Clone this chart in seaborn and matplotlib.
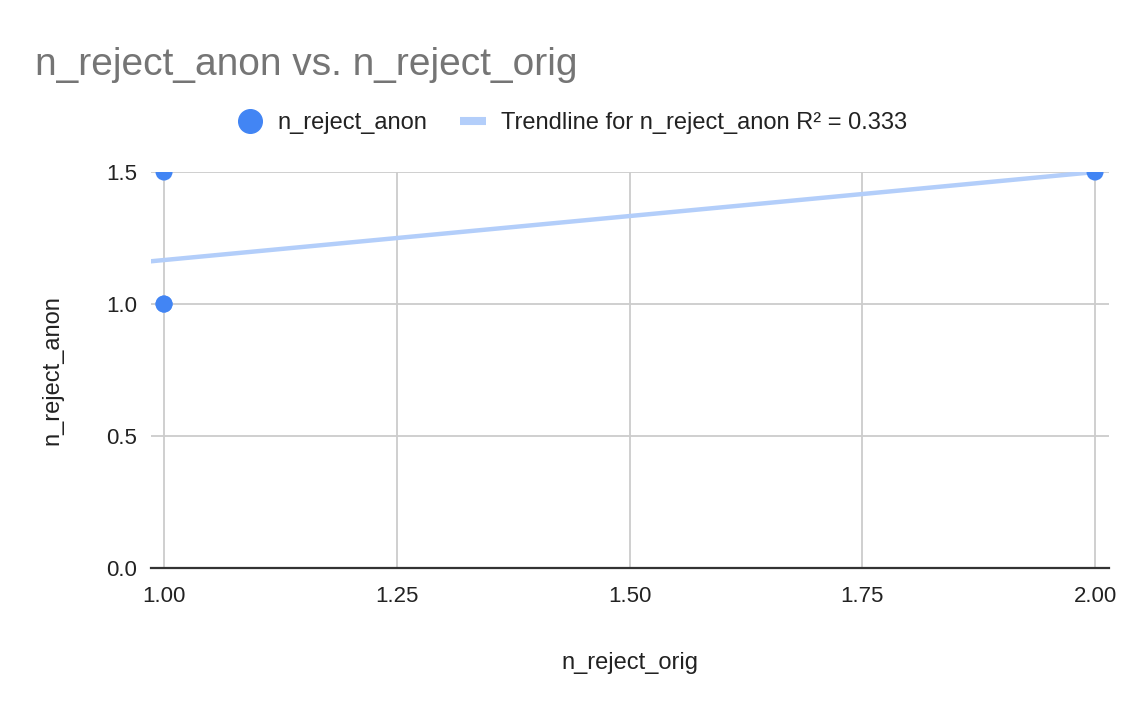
import numpy as np
import pandas as pd
import matplotlib
matplotlib.use("Agg")
import matplotlib.pyplot as plt
import seaborn as sns
from matplotlib.lines import Line2D

# Data
n_reject_orig = [1, 1, 1, 2]
n_reject_anon = [1.5, 1.0, 1.0, 1.5]
x_ticks = [1.00, 1.25, 1.50, 1.75, 2.00]
y_ticks = [0.0, 0.5, 1.0, 1.5]

POINT_COLOR = "#4285F4"
TREND_COLOR = "#B3CEFA"
GRID_COLOR = "#CCCCCC"
TITLE_COLOR = "#757575"
TEXT_COLOR = "#222222"

sns.set_theme(style="white")
plt.rcParams['font.family'] = ['Liberation Sans', 'DejaVu Sans']

df = pd.DataFrame({"n_reject_orig": n_reject_orig, "n_reject_anon": n_reject_anon})

# Linear trendline + R^2
slope, intercept = np.polyfit(df["n_reject_orig"], df["n_reject_anon"], 1)
pred = slope * df["n_reject_orig"] + intercept
ss_res = ((df["n_reject_anon"] - pred) ** 2).sum()
ss_tot = ((df["n_reject_anon"] - df["n_reject_anon"].mean()) ** 2).sum()
r2 = 1 - ss_res / ss_tot

x_lo, x_hi = 0.986, 2.015
trend = pd.DataFrame({"x": [x_lo, max(n_reject_orig)]})
trend["y"] = slope * trend["x"] + intercept

fig = plt.figure(figsize=(11.44, 7.08), dpi=100)
ax = fig.add_axes([0.132, 0.1977, 0.8374, 0.5593])

sns.lineplot(data=trend, x="x", y="y", ax=ax, color=TREND_COLOR, linewidth=3.2,
             zorder=2, legend=False)
sns.scatterplot(data=df, x="n_reject_orig", y="n_reject_anon", ax=ax, color=POINT_COLOR,
                s=150, edgecolor="none", zorder=3, legend=False, clip_on=True)

ax.set_xlim(x_lo, x_hi)
ax.set_ylim(0, 1.5)
ax.set_xticks(x_ticks)
ax.set_xticklabels([f"{t:.2f}" for t in x_ticks])
ax.set_yticks(y_ticks)
ax.set_yticklabels([f"{t:.1f}" for t in y_ticks])
ax.grid(True, color=GRID_COLOR, linewidth=1.3)
ax.set_axisbelow(True)
for side in ["top", "right", "left"]:
    ax.spines[side].set_visible(False)
ax.spines["bottom"].set_color("#333333")
ax.spines["bottom"].set_linewidth(1.6)
ax.spines["bottom"].set_zorder(4)
ax.tick_params(axis="x", length=0, labelsize=16, colors=TEXT_COLOR, pad=13)
ax.tick_params(axis="y", length=0, labelsize=16, colors=TEXT_COLOR, pad=10)

ax.set_xlabel("n_reject_orig", fontsize=17, color=TEXT_COLOR, labelpad=32)
ax.set_ylabel("n_reject_anon", fontsize=17, color=TEXT_COLOR, labelpad=31)

fig.text(0.031, 0.8935, "n_reject_anon vs. n_reject_orig", fontsize=28, color=TITLE_COLOR,
         ha="left", va="baseline")

handles = [
    Line2D([], [], marker="o", linestyle="none", markersize=17, color=POINT_COLOR),
    Line2D([], [], color=TREND_COLOR, linewidth=5.8, solid_capstyle="butt"),
]
labels = ["n_reject_anon", f"Trendline for n_reject_anon R\u00b2 = {r2:.3f}"]
fig.legend(handles, labels, loc="center", bbox_to_anchor=(0.5, 0.826), ncol=2,
           frameon=False, fontsize=17, handlelength=1.1, handletextpad=0.6,
           columnspacing=1.4, labelcolor=TEXT_COLOR)

fig.savefig("out.png", dpi=100)
